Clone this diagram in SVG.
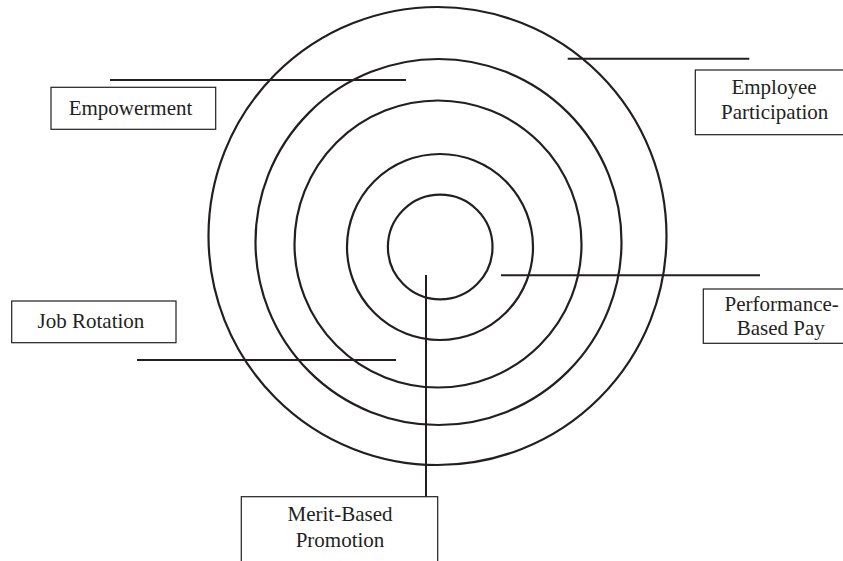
<svg xmlns="http://www.w3.org/2000/svg" width="843" height="561" viewBox="0 0 843 561">
<style>
.ring{fill:none;stroke:#231f20;stroke-width:2.2}
.con{stroke:#231f20;stroke-width:2;fill:none}
.box{fill:#fff;stroke:#231f20;stroke-width:1.2}
text{font-family:"Liberation Serif","Times New Roman",serif;font-size:21px;fill:#231f20;text-anchor:middle}
</style>
<rect width="843" height="561" fill="#fff"/>
<g id="rings">
<circle class="ring" cx="437.5" cy="236" r="229"/>
<circle class="ring" cx="438.5" cy="242" r="183"/>
<circle class="ring" cx="438" cy="244" r="143.5"/>
<circle class="ring" cx="440" cy="247" r="93"/>
<circle class="ring" cx="440.2" cy="247" r="52.3"/>
</g>
<g id="connectors">
<line class="con" x1="110" y1="80" x2="406" y2="80"/>
<line class="con" x1="567.7" y1="58.7" x2="749.3" y2="58.7"/>
<line class="con" x1="137" y1="360" x2="396" y2="360"/>
<line class="con" x1="501" y1="275.3" x2="760" y2="275.3"/>
<line class="con" x1="426" y1="275" x2="426" y2="497"/>
</g>
<g id="empowerment">
<rect class="box" x="51" y="87.3" width="164.7" height="42"/>
<text x="130.5" y="115">Empowerment</text>
</g>
<g id="employee-participation">
<rect class="box" x="695.3" y="70" width="160" height="64.7"/>
<text x="774" y="94.3">Employee</text>
<text x="774.7" y="119">Participation</text>
</g>
<g id="job-rotation">
<rect class="box" x="11.7" y="301" width="164.3" height="41.7"/>
<text x="91" y="328.3">Job Rotation</text>
</g>
<g id="performance-based-pay">
<rect class="box" x="703.3" y="289" width="160" height="54.3"/>
<text x="781.7" y="311">Performance-</text>
<text x="780.8" y="335">Based Pay</text>
</g>
<g id="merit-based-promotion">
<rect class="box" x="241.3" y="496.7" width="196.4" height="80"/>
<text x="340" y="521">Merit-Based</text>
<text x="340" y="546.7">Promotion</text>
</g>
</svg>
